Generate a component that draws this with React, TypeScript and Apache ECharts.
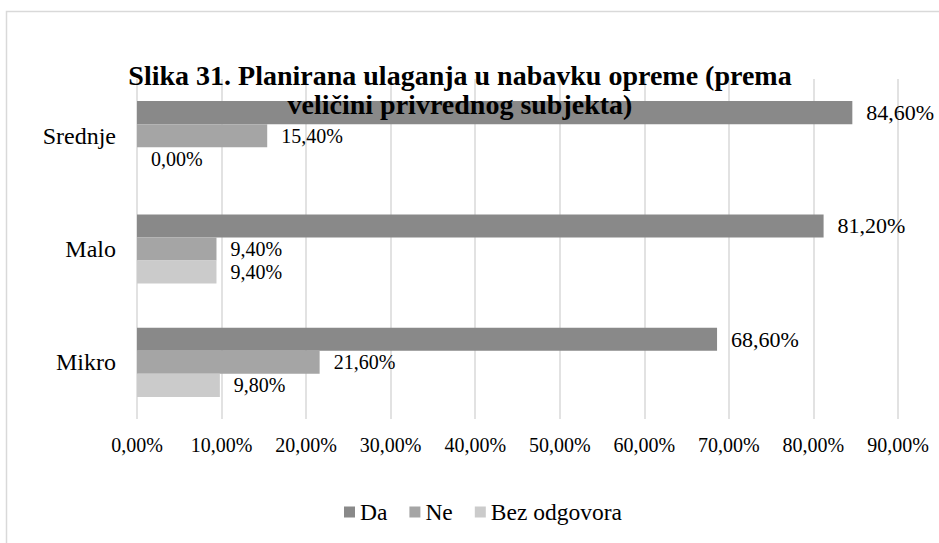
import React, { useEffect, useRef } from "react";
import * as echarts from "echarts";

const categories = ["Srednje", "Malo", "Mikro"];
const daValues = [84.6, 81.2, 68.6];
const neValues = [15.4, 9.4, 21.6];
const bezValues = [0.0, 9.4, 9.8];
const seriesNames = ["Da", "Ne", "Bez odgovora"];
const titleText = "Slika 31. Planirana ulaganja u nabavku opreme (prema\nveličini privrednog subjekta)";

const FONT = '"Liberation Serif", "Times New Roman", serif';
const fmt = (v: number) => v.toFixed(2).replace(".", ",") + "%";

export default function App() {
  const ref = useRef<HTMLDivElement>(null);
  useEffect(() => {
    if (!ref.current) return;
    const chart = echarts.init(ref.current, undefined, { renderer: "svg" });
    const mkLabel = (size: number) => ({
      show: true,
      position: "right" as const,
      distance: 14,
      fontFamily: FONT,
      fontSize: size,
      color: "#000",
      formatter: (p: any) => fmt(p.value),
    });
    chart.setOption({
      animation: false,
      backgroundColor: "#fff",
      textStyle: { fontFamily: FONT },
      title: {
        text: titleText,
        left: 455,
        top: 56,
        textAlign: "center",
        textStyle: { fontFamily: FONT, fontSize: 28, fontWeight: "bold", color: "#000", lineHeight: 29 },
      },
      graphic: [
        {
          type: "rect",
          shape: { x: 6.5, y: 11.5, width: 940, height: 540 },
          style: { fill: "none", stroke: "#d9d9d9", lineWidth: 1.5 },
          silent: true,
        },
      ],
      legend: {
        data: seriesNames,
        bottom: 14,
        left: 339,
        itemWidth: 11,
        itemHeight: 11,
        itemGap: 22,
        icon: "rect",
        textStyle: { fontFamily: FONT, fontSize: 23.5, color: "#000" },
      },
      grid: { left: 137, right: 41, top: 79, bottom: 124, containLabel: false },
      xAxis: {
        type: "value",
        min: 0,
        max: 90,
        interval: 10,
        axisLine: { show: false },
        axisTick: { show: false },
        splitLine: { show: true, lineStyle: { color: "#d9d9d9", width: 1.5 } },
        axisLabel: { fontFamily: FONT, fontSize: 20, color: "#000", margin: 16, formatter: (v: number) => fmt(v) },
      },
      yAxis: {
        type: "category",
        data: categories,
        inverse: true,
        axisLine: { show: false },
        axisTick: { show: false },
        axisLabel: { fontFamily: FONT, fontSize: 24, color: "#000", margin: 21 },
      },
      series: [
        {
          name: seriesNames[0],
          type: "bar",
          data: daValues,
          itemStyle: { color: "#898989" },
          barGap: "0%",
          barCategoryGap: "39%",
          label: mkLabel(22),
        },
        {
          name: seriesNames[1],
          type: "bar",
          data: neValues,
          itemStyle: { color: "#a5a5a5" },
          barGap: "0%",
          barCategoryGap: "39%",
          label: mkLabel(20),
        },
        {
          name: seriesNames[2],
          type: "bar",
          data: bezValues,
          itemStyle: { color: "#cbcbcb" },
          barGap: "0%",
          barCategoryGap: "39%",
          label: mkLabel(20),
        },
      ],
    });
    return () => chart.dispose();
  }, []);
  return <div ref={ref} style={{ position: "absolute", left: 0, top: 0, width: 939, height: 543 }} />;
}
